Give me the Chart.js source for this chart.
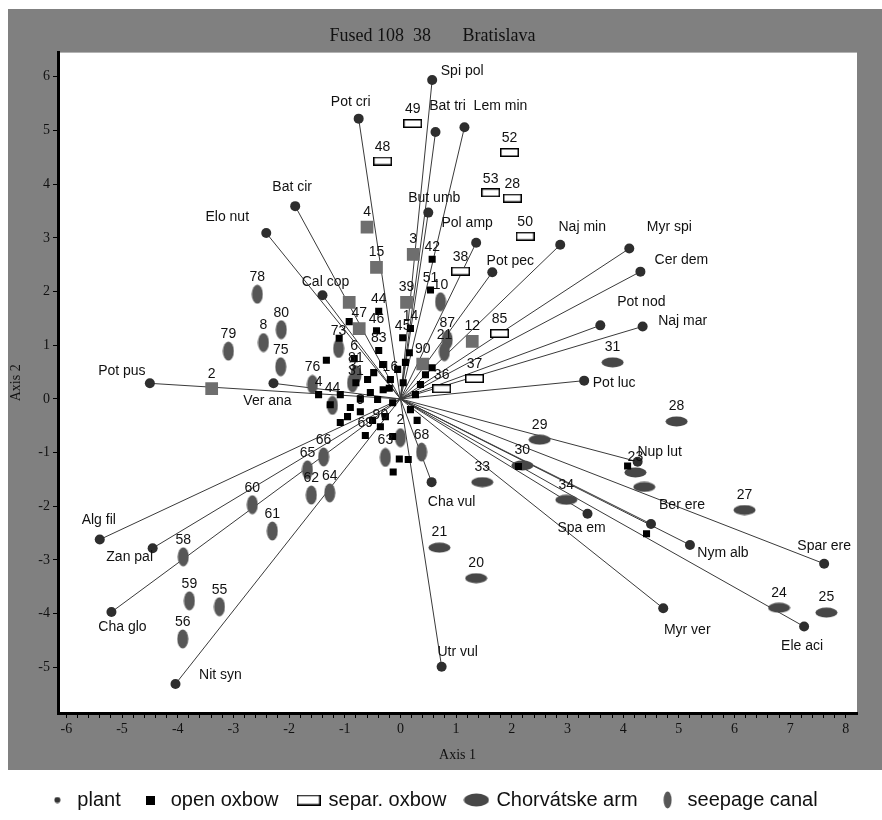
<!DOCTYPE html>
<html>
<head>
<meta charset="utf-8">
<script src="https://cdn.jsdelivr.net/npm/chart.js@4"></script>
<style>
  html, body { margin: 0; background: #fff; }
  #wrap { width: 882px; height: 820px; }
</style>
</head>
<body>
<div id="wrap"><canvas id="biplot" width="882" height="820"></canvas></div>
<script>
/* Fused 108 38 Bratislava - biplot (plants + sites) */

// ---- plants (vectors from origin) ----
const plantNames = ['Spi pol', 'Bat tri', 'Lem min', 'Pot cri', 'But umb', 'Pol amp', 'Pot pec', 'Naj min',
  'Myr spi', 'Cer dem', 'Pot nod', 'Naj mar', 'Pot luc', 'Nup lut', 'Ber ere', 'Nym alb', 'Spar ere',
  'Ele aci', 'Myr ver', 'Spa em', 'Utr vul', 'Cha vul', 'Nit syn', 'Cha glo', 'Alg fil', 'Zan pal',
  'Pot pus', 'Ver ana', 'Elo nut', 'Bat cir', 'Cal cop'];
const plantX = [0.57, 0.63, 1.15, -0.75, 0.50, 1.36, 1.65, 2.87,
  4.11, 4.31, 3.59, 4.35, 3.30, 4.26, 4.50, 5.20, 7.61,
  7.25, 4.72, 3.36, 0.74, 0.56, -4.04, -5.19, -5.40, -4.45,
  -4.50, -2.28, -2.41, -1.89, -1.40];
const plantY = [5.94, 4.97, 5.06, 5.22, 3.47, 2.91, 2.36, 2.87,
  2.80, 2.37, 1.37, 1.35, 0.34, -1.17, -2.33, -2.72, -3.07,
  -4.24, -3.90, -2.14, -4.99, -1.55, -5.31, -3.97, -2.62, -2.78,
  0.29, 0.29, 3.09, 3.59, 1.93];

// ---- open oxbow (small black squares) ----
const openX = [0.57, 0.54, -0.92, -0.43, -0.39, 0.04, 0.18, -1.10, -1.33, -0.83, -0.39, 0.57,
  -1.47, -1.26, -0.95, -1.08, -0.72, -0.90, -0.54, -0.41, -0.31, -0.18, -0.05, -0.59, -0.48,
  -0.32, -0.14, -0.27, -0.36, -0.63, -0.14, 0.09, 0.16, -0.02, 0.14, -0.13, 2.12, 4.08, 4.42,
  0.27, 0.36, 0.18, -0.72, -1.08, 0.30, -0.20, 0.05, -0.50, 0.45, -0.80];
const openY = [2.60, 2.03, 1.44, 1.27, 1.63, 1.14, 1.31, 1.13, 0.72, 0.75, 0.90, 0.58,
  0.08, -0.11, -0.33, -0.44, -0.24, -0.16, 0.12, -0.01, 0.17, 0.36, 0.55, 0.36, 0.49,
  0.64, -0.07, -0.33, -0.52, -0.68, -0.70, 0.68, 0.86, -1.12, -1.13, -1.36, -1.26, -1.25, -2.51,
  0.08, 0.27, -0.20, 0.00, 0.08, -0.40, 0.20, 0.30, -0.40, 0.45, 0.30];
const openLabels = ['42', '51', '', '46', '44', '45', '14', '', '', '6', '83', '',
  '4', '', '', '', '9', '', '', '', '', '16', '', '', '',
  '', '', '', '90', '69', '', '', '', '', '', '', '', '', '',
  '', '', '', '', '', '', '', '', '', '', '31'];

// ---- separ. oxbow (white rectangles) ----
const separX = [0.22, -0.32, 1.96, 1.62, 2.01, 2.24, 1.08, 1.78, 1.33, 0.74];
const separY = [5.13, 4.43, 4.59, 3.84, 3.74, 3.03, 2.38, 1.22, 0.38, 0.19];
const separLabels = ['49', '48', '52', '53', '28', '50', '38', '85', '37', '36'];

// ---- Chorvátske arm (horizontal ellipses) ----
const chorvX = [3.81, 4.96, 2.50, 2.19, 1.47, 4.22, 4.38, 2.98, 6.18, 6.80, 7.65, 0.70, 1.36];
const chorvY = [0.68, -0.42, -0.76, -1.24, -1.55, -1.37, -1.64, -1.88, -2.07, -3.89, -3.98, -2.77, -3.34];
const chorvLabels = ['31', '28', '29', '30', '33', '23', '', '34', '27', '24', '25', '21', '20'];

// ---- seepage canal (vertical ellipses) ----
const seepX = [-2.57, -3.09, -2.46, -2.14, -2.15, -1.58, -1.22, -1.11, -0.86, 0.72, -1.67, -1.38,
  -1.60, -1.27, -2.66, -2.30, -3.90, -3.79, -3.25, -3.91, -0.27, 0.00, 0.38, 0.84, 0.79, -0.80];
const seepY = [1.95, 0.89, 1.05, 1.29, 0.60, 0.27, -0.12, 0.94, 0.30, 1.81, -1.32, -1.08,
  -1.79, -1.75, -1.97, -2.46, -2.94, -3.76, -3.87, -4.47, -1.09, -0.72, -0.99, 1.10, 0.88, 0.45];
const seepLabels = ['78', '79', '8', '80', '75', '76', '44', '73', '3', '10', '65', '66',
  '62', '64', '60', '61', '58', '59', '55', '56', '63', '2', '68', '87', '21', '81'];

// ---- larger grey squares ----
const boxX = [-0.60, -0.43, -0.92, -0.74, -3.39, 0.23, 0.11, 1.29, 0.40];
const boxY = [3.20, 2.45, 1.80, 1.31, 0.19, 2.69, 1.80, 1.07, 0.65];
const boxLabels = ['4', '15', '', '47', '2', '3', '39', '12', '90'];

// ---- axes ----
const xTickMin = -6, xTickMax = 8, xMinorStep = 0.2;
const yTicks = [-5, -4, -3, -2, -1, 0, 1, 2, 3, 4, 5, 6];

// label placement for plant names: [dx, dy] in px from the dot (text centre)
const plantLabelAt = {
  'Spi pol': [30, -9], 'Bat tri': [12, -26], 'Lem min': [36, -21], 'Pot cri': [-8, -16],
  'But umb': [6, -14], 'Pol amp': [-9, -20], 'Pot pec': [18, -11], 'Naj min': [22, -18],
  'Myr spi': [40, -21], 'Cer dem': [41, -12], 'Pot nod': [41, -23], 'Naj mar': [40, -5],
  'Pot luc': [30, 2], 'Nup lut': [22, -10], 'Ber ere': [31, -19], 'Nym alb': [33, 8],
  'Spar ere': [0, -18], 'Ele aci': [-2, 20], 'Myr ver': [24, 22], 'Spa em': [-6, 14],
  'Utr vul': [16, -15], 'Cha vul': [20, 20], 'Nit syn': [45, -9], 'Cha glo': [11, 15],
  'Alg fil': [-1, -19], 'Zan pal': [-23, 9], 'Pot pus': [-28, -12], 'Ver ana': [-6, 18],
  'Elo nut': [-39, -16], 'Bat cir': [-3, -19], 'Cal cop': [3, -13]
};

const toPoints = (xs, ys) => xs.map((x, i) => ({ x: x, y: ys[i] }));

function icon(w, h, draw) {
  const c = document.createElement('canvas');
  c.width = w; c.height = h;
  draw(c.getContext('2d'), w, h);
  return c;
}
const ellipseIcon = (w, h, color) => icon(w, h, (g) => {
  g.fillStyle = color;
  g.beginPath();
  g.ellipse(w / 2, h / 2, w / 2 - 0.5, h / 2 - 0.5, 0, 0, Math.PI * 2);
  g.fill();
});
const rectIcon = (w, h) => icon(w, h, (g) => {
  g.fillStyle = '#fff';
  g.fillRect(0, 0, w, h);
  g.strokeStyle = '#000';
  g.lineWidth = 1.5;
  g.strokeRect(0.75, 0.75, w - 1.5, h - 1.5);
});
const squareIcon = (s, color) => icon(s, s, (g) => { g.fillStyle = color; g.fillRect(0, 0, s, s); });

const separIcon = rectIcon(19, 9);
const chorvIcon = ellipseIcon(23, 11, '#474747');
const seepIcon = ellipseIcon(12, 20, '#575757');
const legendIcons = [ellipseIcon(7, 7, '#333'), squareIcon(9, '#000'), rectIcon(24, 11),
  ellipseIcon(26, 14, '#474747'), ellipseIcon(9, 18, '#575757')];

// origin -> plant segments, separated by gaps
const vectorPoints = [];
plantX.forEach((x, i) => {
  vectorPoints.push({ x: 0, y: 0 }, { x: x, y: plantY[i] }, { x: null, y: null });
});

const background = {
  id: 'background',
  beforeDraw(chart) {
    const { ctx, chartArea: a } = chart;
    ctx.save();
    ctx.fillStyle = '#fff';
    ctx.fillRect(0, 0, chart.width, chart.height);
    ctx.fillStyle = '#808080';
    ctx.fillRect(8, 9, chart.width - 8, 761);
    ctx.fillStyle = '#fff';
    ctx.fillRect(a.left, a.top, a.right - a.left, a.bottom - a.top);
    ctx.restore();
  }
};

const pointLabels = {
  id: 'pointLabels',
  afterDatasetsDraw(chart) {
    const ctx = chart.ctx;
    ctx.save();
    ctx.font = '14px "Liberation Sans", Arial, sans-serif';
    ctx.fillStyle = '#111';
    ctx.textAlign = 'center';
    ctx.textBaseline = 'middle';
    chart.data.datasets.forEach((ds, di) => {
      if (!ds.pointLabels) return;
      chart.getDatasetMeta(di).data.forEach((el, i) => {
        const txt = ds.pointLabels[i];
        if (!txt) return;
        const off = ds.labelAt ? ds.labelAt(txt) : [0, ds.labelDy];
        ctx.fillText(txt, el.x + off[0], el.y + off[1]);
      });
    });
    ctx.restore();
  }
};

const serif = { family: '"Liberation Serif", "Times New Roman", serif', size: 14 };

new Chart(document.getElementById('biplot'), {
  type: 'scatter',
  data: {
    datasets: [
      {
        label: 'plant',
        data: toPoints(plantX, plantY),
        pointStyle: 'circle',
        pointRadius: 5,
        backgroundColor: '#2e2e2e',
        borderWidth: 0,
        pointLabels: plantNames,
        labelAt: (name) => plantLabelAt[name] || [0, -14],
        order: 1
      },
      {
        label: 'open oxbow',
        data: toPoints(openX, openY),
        pointStyle: 'rect',
        pointRadius: 5,
        backgroundColor: '#000',
        borderWidth: 0,
        pointLabels: openLabels,
        labelDy: -12,
        order: 2
      },
      {
        label: 'separ. oxbow',
        data: toPoints(separX, separY),
        pointStyle: separIcon,
        pointLabels: separLabels,
        labelDy: -14,
        order: 3
      },
      {
        label: 'Chorvátske arm',
        data: toPoints(chorvX, chorvY),
        pointStyle: chorvIcon,
        pointLabels: chorvLabels,
        labelDy: -15,
        order: 4
      },
      {
        label: 'seepage canal',
        data: toPoints(seepX, seepY),
        pointStyle: seepIcon,
        pointLabels: seepLabels,
        labelDy: -17,
        order: 5
      },
      {
        label: 'grey',
        data: toPoints(boxX, boxY),
        pointStyle: 'rect',
        pointRadius: 9,
        backgroundColor: '#6e6e6e',
        borderWidth: 0,
        pointLabels: boxLabels,
        labelDy: -15,
        order: 6
      },
      {
        type: 'line',
        label: 'vectors',
        data: vectorPoints,
        showLine: true,
        spanGaps: false,
        borderColor: '#3a3a3a',
        borderWidth: 1,
        pointRadius: 0,
        order: 10
      }
    ]
  },
  options: {
    responsive: false,
    devicePixelRatio: 1,
    animation: false,
    events: [],
    layout: { padding: { left: 8, right: 25, top: 0, bottom: 0 } },
    plugins: {
      tooltip: { enabled: false },
      title: {
        display: true,
        text: 'Fused 108  38       Bratislava',
        color: '#111',
        font: { family: serif.family, size: 18, weight: 'normal' },
        padding: { top: 25, bottom: 6 }
      },
      legend: {
        position: 'bottom',
        labels: {
          usePointStyle: true,
          boxHeight: 8,
          boxWidth: 20,
          padding: 20,
          color: '#111',
          font: { family: '"Liberation Sans", Arial, sans-serif', size: 20 },
          filter: (item) => item.datasetIndex < 5,
          generateLabels(chart) {
            const items = Chart.defaults.plugins.legend.labels.generateLabels(chart);
            items.forEach((it) => {
              if (it.datasetIndex < legendIcons.length) it.pointStyle = legendIcons[it.datasetIndex];
            });
            return items;
          }
        }
      }
    },
    scales: {
      x: {
        type: 'linear',
        min: -6.15,
        max: 8.2,
        afterBuildTicks(scale) {
          const ticks = [];
          const n = Math.round((xTickMax - xTickMin) / xMinorStep);
          for (let k = 0; k <= n; k++) ticks.push({ value: xTickMin + k * xMinorStep });
          scale.ticks = ticks;
        },
        afterFit(scale) { scale.height = 57; },
        ticks: {
          autoSkip: false,
          maxRotation: 0,
          padding: 3,
          color: '#111',
          font: serif,
          callback: (v) => Math.abs(v - Math.round(v)) < 1e-6 ? String(Math.round(v)) : ''
        },
        grid: { drawOnChartArea: false, color: '#000', tickLength: 5 },
        border: { color: '#000', width: 3 },
        title: { display: true, text: 'Axis 1', color: '#111', font: serif, padding: { top: 0, bottom: 6 } }
      },
      y: {
        type: 'linear',
        min: -5.85,
        max: 6.45,
        afterBuildTicks(scale) { scale.ticks = yTicks.map((v) => ({ value: v })); },
        afterFit(scale) { scale.width = 50; },
        ticks: { color: '#111', font: serif, padding: 3 },
        grid: { drawOnChartArea: false, color: '#000', tickLength: 5 },
        border: { color: '#000', width: 3 },
        title: { display: true, text: 'Axis 2', color: '#111', font: serif, padding: { top: 0, bottom: 0 } }
      }
    }
  },
  plugins: [background, pointLabels]
});
</script>
</body>
</html>
